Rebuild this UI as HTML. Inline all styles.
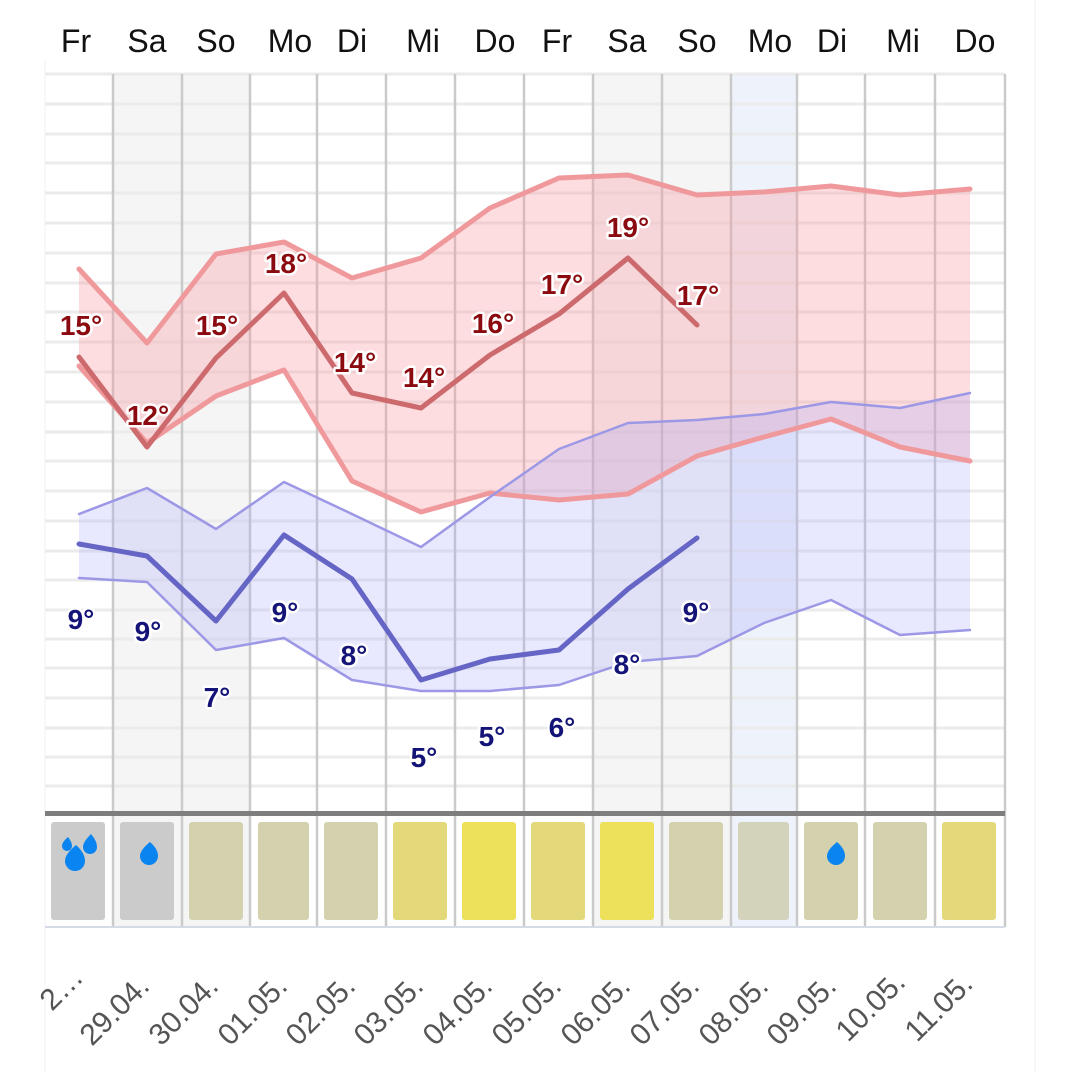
<!DOCTYPE html>
<html><head><meta charset="utf-8"><style>
html,body{margin:0;padding:0;background:#fff;}
svg{display:block;font-family:"Liberation Sans",sans-serif;}
.d{font-size:32px;fill:#111;text-anchor:middle;}
.r{font-size:28px;font-weight:bold;fill:#8b0a0f;text-anchor:middle;stroke:#fff;stroke-width:5px;paint-order:stroke;stroke-linejoin:round;}
.b{font-size:28px;font-weight:bold;fill:#141478;text-anchor:middle;stroke:#fff;stroke-width:5px;paint-order:stroke;stroke-linejoin:round;}
.t{font-size:30px;fill:#555;}
</style></head><body>
<svg width="1080" height="1072" viewBox="0 0 1080 1072" xmlns="http://www.w3.org/2000/svg">
<rect width="1080" height="1072" fill="#fff"/>
<line x1="1035" y1="0" x2="1035" y2="1072" stroke="#f0f0f0" stroke-width="1"/>
<line x1="45" y1="60" x2="45" y2="1072" stroke="#f2f2f2" stroke-width="1"/>
<rect x="113" y="74" width="137" height="853" fill="#f5f5f5"/>
<rect x="593" y="74" width="138" height="853" fill="#f5f5f5"/>
<rect x="731" y="74" width="66" height="853" fill="#eef2fb"/>
<g stroke="#ebebeb" stroke-width="3">
<line x1="45" x2="1005" y1="74" y2="74"/><line x1="45" x2="1005" y1="104" y2="104"/><line x1="45" x2="1005" y1="134" y2="134"/><line x1="45" x2="1005" y1="163" y2="163"/><line x1="45" x2="1005" y1="193" y2="193"/><line x1="45" x2="1005" y1="223" y2="223"/><line x1="45" x2="1005" y1="253" y2="253"/><line x1="45" x2="1005" y1="283" y2="283"/><line x1="45" x2="1005" y1="312" y2="312"/><line x1="45" x2="1005" y1="342" y2="342"/><line x1="45" x2="1005" y1="372" y2="372"/><line x1="45" x2="1005" y1="402" y2="402"/><line x1="45" x2="1005" y1="432" y2="432"/><line x1="45" x2="1005" y1="461" y2="461"/><line x1="45" x2="1005" y1="491" y2="491"/><line x1="45" x2="1005" y1="521" y2="521"/><line x1="45" x2="1005" y1="551" y2="551"/><line x1="45" x2="1005" y1="580" y2="580"/><line x1="45" x2="1005" y1="610" y2="610"/><line x1="45" x2="1005" y1="639" y2="639"/><line x1="45" x2="1005" y1="668" y2="668"/><line x1="45" x2="1005" y1="698" y2="698"/><line x1="45" x2="1005" y1="728" y2="728"/><line x1="45" x2="1005" y1="757" y2="757"/><line x1="45" x2="1005" y1="786" y2="786"/>
</g>
<g stroke="#cacaca" stroke-width="2.5">
<line x1="113" x2="113" y1="74" y2="927"/><line x1="182" x2="182" y1="74" y2="927"/><line x1="250" x2="250" y1="74" y2="927"/><line x1="317" x2="317" y1="74" y2="927"/><line x1="386" x2="386" y1="74" y2="927"/><line x1="455" x2="455" y1="74" y2="927"/><line x1="524" x2="524" y1="74" y2="927"/><line x1="593" x2="593" y1="74" y2="927"/><line x1="662" x2="662" y1="74" y2="927"/><line x1="731" x2="731" y1="74" y2="927"/><line x1="797" x2="797" y1="74" y2="927"/><line x1="865" x2="865" y1="74" y2="927"/><line x1="935" x2="935" y1="74" y2="927"/><line x1="1005" x2="1005" y1="74" y2="927"/>
</g>
<polygon fill="rgba(250,150,155,0.32)" points="79,269 147,343 216,254 284,242 352,278 421,258 490,208 559,178 628,175 697,195 764,192 831,186 900,195 970,189 970,461 900,447 831,419 764,437 697,456 628,494 559,500 490,493 421,512 352,481 284,370 216,396 147,443 79,366"/>
<polygon fill="rgba(170,170,250,0.27)" points="79,514 147,488 216,529 284,482 352,514 421,547 490,497 559,449 628,423 697,420 764,414 831,402 900,408 970,393 970,630 900,635 831,600 764,623 697,656 628,662 559,685 490,691 421,691 352,680 284,638 216,650 147,582 79,578"/>
<g fill="none" stroke-linejoin="round" stroke-linecap="round">
<polyline stroke="#f0999c" stroke-width="5" points="79,269 147,343 216,254 284,242 352,278 421,258 490,208 559,178 628,175 697,195 764,192 831,186 900,195 970,189"/>
<polyline stroke="#f0999c" stroke-width="5" points="79,366 147,443 216,396 284,370 352,481 421,512 490,493 559,500 628,494 697,456 764,437 831,419 900,447 970,461"/>
<polyline stroke="#cc6a6e" stroke-width="5" points="79,357 147,447 216,358 284,293 352,393 421,408 490,355 559,314 628,258 697,325"/>
<polyline stroke="#9c98e6" stroke-width="2.5" points="79,514 147,488 216,529 284,482 352,514 421,547 490,497 559,449 628,423 697,420 764,414 831,402 900,408 970,393"/>
<polyline stroke="#9c98e6" stroke-width="2.5" points="79,578 147,582 216,650 284,638 352,680 421,691 490,691 559,685 628,662 697,656 764,623 831,600 900,635 970,630"/>
<polyline stroke="#6565c5" stroke-width="5" points="79,544 147,556 216,621 284,535 352,579 421,680 490,659 559,650 628,589 697,538"/>
</g>
<text class="r" x="81" y="335">15°</text><text class="r" x="148" y="425">12°</text><text class="r" x="217" y="335">15°</text><text class="r" x="286" y="273">18°</text><text class="r" x="355" y="372">14°</text><text class="r" x="424" y="387">14°</text><text class="r" x="493" y="333">16°</text><text class="r" x="562" y="294">17°</text><text class="r" x="628" y="237">19°</text><text class="r" x="698" y="305">17°</text>
<text class="b" x="81" y="629">9°</text><text class="b" x="148" y="641">9°</text><text class="b" x="217" y="707">7°</text><text class="b" x="285" y="622">9°</text><text class="b" x="354" y="665">8°</text><text class="b" x="424" y="767">5°</text><text class="b" x="492" y="746">5°</text><text class="b" x="562" y="737">6°</text><text class="b" x="627" y="674">8°</text><text class="b" x="696" y="622">9°</text>
<rect x="45" y="811" width="960" height="5" fill="#7e7e7e"/>
<line x1="45" x2="1005" y1="927" y2="927" stroke="#d5dbe5" stroke-width="2"/>
<g>
<rect x="51" y="822" width="54" height="98" rx="3" fill="#cbcbcb"/>
<rect x="120" y="822" width="54" height="98" rx="3" fill="#cbcbcb"/>
<rect x="189" y="822" width="54" height="98" rx="3" fill="#d4d2ae"/>
<rect x="258" y="822" width="51" height="98" rx="3" fill="#d4d2ae"/>
<rect x="324" y="822" width="54" height="98" rx="3" fill="#d4d2ae"/>
<rect x="393" y="822" width="54" height="98" rx="3" fill="#e3d97a"/>
<rect x="462" y="822" width="54" height="98" rx="3" fill="#ede05a"/>
<rect x="531" y="822" width="54" height="98" rx="3" fill="#e3d97a"/>
<rect x="600" y="822" width="54" height="98" rx="3" fill="#ede05a"/>
<rect x="669" y="822" width="54" height="98" rx="3" fill="#d4d2ae"/>
<rect x="738" y="822" width="51" height="98" rx="3" fill="#d3d2bb"/>
<rect x="804" y="822" width="54" height="98" rx="3" fill="#d4d2ae"/>
<rect x="873" y="822" width="54" height="98" rx="3" fill="#d4d2ae"/>
<rect x="942" y="822" width="54" height="98" rx="3" fill="#e3d97a"/>
</g>
<g fill="#0a84f0">
<path d="M91,834 q-8,8 -8,13 a7,7 0 0 0 14,0 q0,-6 -6,-13z"/>
<path d="M76,845 q-11,9 -11,16 a10,10 0 0 0 20,0 q0,-8 -9,-16z"/>
<path d="M68,837 q-6,5 -6,9 a5,5 0 0 0 10,0 q0,-4 -4,-9z"/>
<path d="M150,842 q-10,8 -10,14 a9,9 0 0 0 18,0 q0,-7 -8,-14z"/>
<path d="M837,842 q-10,8 -10,14 a9,9 0 0 0 18,0 q0,-7 -8,-14z"/>
</g>
<g class="d">
<text x="76" y="52">Fr</text><text x="147" y="52">Sa</text><text x="216" y="52">So</text><text x="290" y="52">Mo</text><text x="352" y="52">Di</text><text x="423" y="52">Mi</text><text x="495" y="52">Do</text><text x="557" y="52">Fr</text><text x="627" y="52">Sa</text><text x="697" y="52">So</text><text x="770" y="52">Mo</text><text x="832" y="52">Di</text><text x="903" y="52">Mi</text><text x="975" y="52">Do</text>
</g>
<g class="t">
<text transform="translate(52,1012) rotate(-45)">2…</text>
<text transform="translate(92,1047) rotate(-45)">29.04.</text>
<text transform="translate(161,1047) rotate(-45)">30.04.</text>
<text transform="translate(230,1047) rotate(-45)">01.05.</text>
<text transform="translate(298,1047) rotate(-45)">02.05.</text>
<text transform="translate(366,1047) rotate(-45)">03.05.</text>
<text transform="translate(435,1047) rotate(-45)">04.05.</text>
<text transform="translate(504,1047) rotate(-45)">05.05.</text>
<text transform="translate(573,1047) rotate(-45)">06.05.</text>
<text transform="translate(642,1047) rotate(-45)">07.05.</text>
<text transform="translate(711,1047) rotate(-45)">08.05.</text>
<text transform="translate(779,1047) rotate(-45)">09.05.</text>
<text transform="translate(848,1043) rotate(-45)">10.05.</text>
<text transform="translate(917,1043) rotate(-45)">11.05.</text>
</g>
</svg>
</body></html>
